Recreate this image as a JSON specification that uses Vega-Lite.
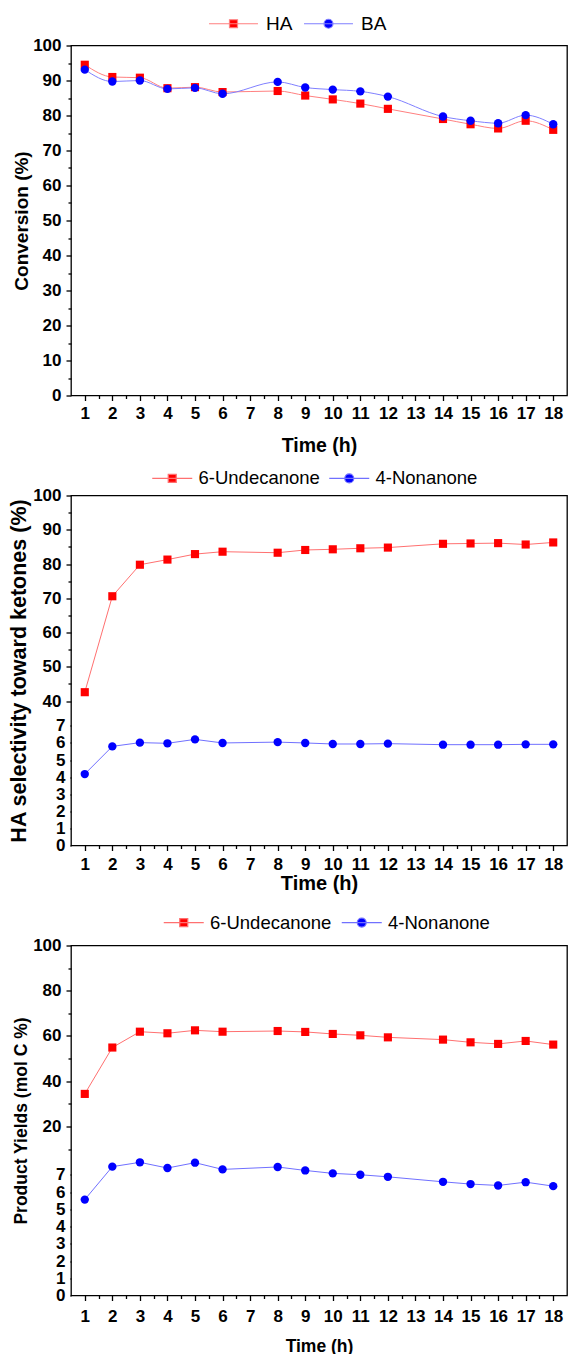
{
  "$schema": "https://vega.github.io/schema/vega-lite/v6.json",
  "background": "white",
  "autosize": {"type": "pad"},
  "padding": {"left": 7, "top": 12.5, "right": 0, "bottom": 0},
  "bounds": "flush",
  "spacing": 100,
  "resolve": {
    "scale": {"color": "independent", "stroke": "independent", "shape": "independent", "x": "independent", "y": "independent"},
    "legend": {"color": "independent", "stroke": "independent", "shape": "independent"}
  },
  "config": {
    "view": {"stroke": "black", "strokeWidth": 1.3},
    "axis": {
      "grid": false, "domain": false, "tickColor": "black", "tickWidth": 1.3,
      "labelFont": "Liberation Sans", "labelFontWeight": "bold", "labelFontSize": 17, "labelColor": "black",
      "titleFont": "Liberation Sans", "titleFontWeight": "bold", "titleColor": "black",
      "labelOverlap": false, "labelFlush": false, "labelBound": false
    },
    "legend": {"labelFont": "Liberation Sans", "labelColor": "black", "padding": 0}
  },
  "datasets": {
    "conv": [
      {"time": 1, "series": "HA", "value": 94.5}, {"time": 2, "series": "HA", "value": 91.0}, {"time": 3, "series": "HA", "value": 90.8},
      {"time": 4, "series": "HA", "value": 87.8}, {"time": 5, "series": "HA", "value": 88.1}, {"time": 6, "series": "HA", "value": 86.7},
      {"time": 8, "series": "HA", "value": 87.0}, {"time": 9, "series": "HA", "value": 85.7}, {"time": 10, "series": "HA", "value": 84.6},
      {"time": 11, "series": "HA", "value": 83.4}, {"time": 12, "series": "HA", "value": 81.9}, {"time": 14, "series": "HA", "value": 79.0},
      {"time": 15, "series": "HA", "value": 77.5}, {"time": 16, "series": "HA", "value": 76.3}, {"time": 17, "series": "HA", "value": 78.5},
      {"time": 18, "series": "HA", "value": 75.9},
      {"time": 1, "series": "BA", "value": 93.1}, {"time": 2, "series": "BA", "value": 89.7}, {"time": 3, "series": "BA", "value": 90.0},
      {"time": 4, "series": "BA", "value": 87.6}, {"time": 5, "series": "BA", "value": 87.9}, {"time": 6, "series": "BA", "value": 86.2},
      {"time": 8, "series": "BA", "value": 89.6}, {"time": 9, "series": "BA", "value": 88.0}, {"time": 10, "series": "BA", "value": 87.4},
      {"time": 11, "series": "BA", "value": 86.9}, {"time": 12, "series": "BA", "value": 85.4}, {"time": 14, "series": "BA", "value": 79.7},
      {"time": 15, "series": "BA", "value": 78.5}, {"time": 16, "series": "BA", "value": 77.8}, {"time": 17, "series": "BA", "value": 80.1},
      {"time": 18, "series": "BA", "value": 77.5}
    ],
    "sel": [
      {"time": 1, "series": "6-Undecanone", "value": 42.6}, {"time": 2, "series": "6-Undecanone", "value": 70.6}, {"time": 3, "series": "6-Undecanone", "value": 79.8},
      {"time": 4, "series": "6-Undecanone", "value": 81.3}, {"time": 5, "series": "6-Undecanone", "value": 82.9}, {"time": 6, "series": "6-Undecanone", "value": 83.6},
      {"time": 8, "series": "6-Undecanone", "value": 83.3}, {"time": 9, "series": "6-Undecanone", "value": 84.1}, {"time": 10, "series": "6-Undecanone", "value": 84.3},
      {"time": 11, "series": "6-Undecanone", "value": 84.6}, {"time": 12, "series": "6-Undecanone", "value": 84.8}, {"time": 14, "series": "6-Undecanone", "value": 85.9},
      {"time": 15, "series": "6-Undecanone", "value": 86.0}, {"time": 16, "series": "6-Undecanone", "value": 86.1}, {"time": 17, "series": "6-Undecanone", "value": 85.7},
      {"time": 18, "series": "6-Undecanone", "value": 86.3},
      {"time": 1, "series": "4-Nonanone", "value": 4.18}, {"time": 2, "series": "4-Nonanone", "value": 5.80}, {"time": 3, "series": "4-Nonanone", "value": 6.02},
      {"time": 4, "series": "4-Nonanone", "value": 5.98}, {"time": 5, "series": "4-Nonanone", "value": 6.21}, {"time": 6, "series": "4-Nonanone", "value": 6.0},
      {"time": 8, "series": "4-Nonanone", "value": 6.05}, {"time": 9, "series": "4-Nonanone", "value": 6.0}, {"time": 10, "series": "4-Nonanone", "value": 5.94},
      {"time": 11, "series": "4-Nonanone", "value": 5.94}, {"time": 12, "series": "4-Nonanone", "value": 5.96}, {"time": 14, "series": "4-Nonanone", "value": 5.90},
      {"time": 15, "series": "4-Nonanone", "value": 5.90}, {"time": 16, "series": "4-Nonanone", "value": 5.90}, {"time": 17, "series": "4-Nonanone", "value": 5.92},
      {"time": 18, "series": "4-Nonanone", "value": 5.92}
    ],
    "yield": [
      {"time": 1, "series": "6-Undecanone", "value": 34.4}, {"time": 2, "series": "6-Undecanone", "value": 54.9}, {"time": 3, "series": "6-Undecanone", "value": 61.9},
      {"time": 4, "series": "6-Undecanone", "value": 61.2}, {"time": 5, "series": "6-Undecanone", "value": 62.5}, {"time": 6, "series": "6-Undecanone", "value": 61.9},
      {"time": 8, "series": "6-Undecanone", "value": 62.2}, {"time": 9, "series": "6-Undecanone", "value": 61.8}, {"time": 10, "series": "6-Undecanone", "value": 60.9},
      {"time": 11, "series": "6-Undecanone", "value": 60.3}, {"time": 12, "series": "6-Undecanone", "value": 59.4}, {"time": 14, "series": "6-Undecanone", "value": 58.4},
      {"time": 15, "series": "6-Undecanone", "value": 57.2}, {"time": 16, "series": "6-Undecanone", "value": 56.5}, {"time": 17, "series": "6-Undecanone", "value": 57.8},
      {"time": 18, "series": "6-Undecanone", "value": 56.2},
      {"time": 1, "series": "4-Nonanone", "value": 5.56}, {"time": 2, "series": "4-Nonanone", "value": 7.47}, {"time": 3, "series": "4-Nonanone", "value": 7.72},
      {"time": 4, "series": "4-Nonanone", "value": 7.39}, {"time": 5, "series": "4-Nonanone", "value": 7.70}, {"time": 6, "series": "4-Nonanone", "value": 7.31},
      {"time": 8, "series": "4-Nonanone", "value": 7.45}, {"time": 9, "series": "4-Nonanone", "value": 7.25}, {"time": 10, "series": "4-Nonanone", "value": 7.08},
      {"time": 11, "series": "4-Nonanone", "value": 7.0}, {"time": 12, "series": "4-Nonanone", "value": 6.88}, {"time": 14, "series": "4-Nonanone", "value": 6.59},
      {"time": 15, "series": "4-Nonanone", "value": 6.46}, {"time": 16, "series": "4-Nonanone", "value": 6.38}, {"time": 17, "series": "4-Nonanone", "value": 6.57},
      {"time": 18, "series": "4-Nonanone", "value": 6.34}
    ]
  },
  "vconcat": [
    {
      "width": 496, "height": 350,
      "data": {"name": "conv"},
      "encoding": {
        "x": {"field": "time", "type": "quantitative", "scale": {"domain": [0.5, 18.5], "nice": false, "zero": false},
          "axis": {"values": [1,1.5,2,2.5,3,3.5,4,4.5,5,5.5,6,6.5,7,7.5,8,8.5,9,9.5,10,10.5,11,11.5,12,12.5,13,13.5,14,14.5,15,15.5,16,16.5,17,17.5,18],
            "labelExpr": "datum.value % 1 === 0 ? format(datum.value, 'd') : ''",
            "tickSize": {"condition": {"test": "datum.value % 1 === 0", "value": 5}, "value": 3},
            "title": "Time (h)", "titleFontSize": 19.5, "labelPadding": 5, "titlePadding": 15}},
        "y": {"field": "value", "type": "quantitative", "scale": {"domain": [0, 100], "nice": false, "zero": false},
          "axis": {"values": [0,5,10,15,20,25,30,35,40,45,50,55,60,65,70,75,80,85,90,95,100],
            "labelExpr": "datum.value % 10 === 0 ? format(datum.value, 'd') : ''",
            "tickSize": {"condition": {"test": "datum.value % 10 === 0", "value": 5}, "value": 3},
            "title": "Conversion (%)", "titleFontSize": 19, "labelPadding": 5, "titlePadding": 1}}
      },
      "layer": [
        {
          "mark": {"type": "line", "interpolate": "monotone", "strokeWidth": 1},
          "encoding": {"stroke": {"field": "series", "type": "nominal", "scale": {"domain": ["HA", "BA"], "range": ["#ff8080", "#8080ff"]},
            "legend": {"orient": "none", "legendX": 153, "legendY": -31.5, "direction": "horizontal", "title": null, "labelFontSize": 19, "symbolSize": 256, "symbolStrokeWidth": 1.2, "labelOffset": 23, "columnPadding": 8, "symbolOpacity": 1}}}
        },
        {
          "transform": [{"filter": "datum.series === 'HA'"}],
          "mark": {"type": "point", "filled": true, "opacity": 1, "size": 66, "shape": "square"},
          "encoding": {"color": {"field": "series", "type": "nominal", "scale": {"domain": ["HA", "BA"], "range": ["#ff0000", "#0000ff"]},
            "legend": {"orient": "none", "legendX": 153, "legendY": -31.5, "direction": "horizontal", "title": null, "labelFontSize": 19, "symbolSize": 256, "symbolStrokeWidth": 1.2, "labelOffset": 23, "columnPadding": 8, "symbolOpacity": 1}}}
        },
        {
          "transform": [{"filter": "datum.series === 'BA'"}],
          "mark": {"type": "point", "filled": true, "opacity": 1, "size": 70, "shape": "circle"},
          "encoding": {"color": {"field": "series", "type": "nominal", "scale": {"domain": ["HA", "BA"], "range": ["#ff0000", "#0000ff"]},
            "legend": {"orient": "none", "legendX": 153, "legendY": -31.5, "direction": "horizontal", "title": null, "labelFontSize": 19, "symbolSize": 256, "symbolStrokeWidth": 1.2, "labelOffset": 23, "columnPadding": 8, "symbolOpacity": 1}}}
        },
        {
          "transform": [{"filter": "false"}],
          "mark": {"type": "point"},
          "encoding": {"shape": {"field": "series", "type": "nominal", "scale": {"domain": ["HA", "BA"], "range": ["M-3.06,0H3.06M-0.5,-0.5H0.5V0.5H-0.5Z", "M-3.06,0H3.06M-0.56,0A0.56,0.56 0 1,0 0.56,0A0.56,0.56 0 1,0 -0.56,0Z"]},
            "legend": {"orient": "none", "legendX": 153, "legendY": -31.5, "direction": "horizontal", "title": null, "labelFontSize": 19, "symbolSize": 256, "symbolStrokeWidth": 1.2, "labelOffset": 23, "columnPadding": 8, "symbolOpacity": 1}}}
        }
      ]
    },
    {
      "width": 496, "height": 350,
      "data": {"name": "sel"},
      "encoding": {
        "x": {"field": "time", "type": "quantitative", "scale": {"domain": [0.5, 18.5], "nice": false, "zero": false},
          "axis": {"values": [1,1.5,2,2.5,3,3.5,4,4.5,5,5.5,6,6.5,7,7.5,8,8.5,9,9.5,10,10.5,11,11.5,12,12.5,13,13.5,14,14.5,15,15.5,16,16.5,17,17.5,18],
            "labelExpr": "datum.value % 1 === 0 ? format(datum.value, 'd') : ''",
            "tickSize": {"condition": {"test": "datum.value % 1 === 0", "value": 5}, "value": 3},
            "title": "Time (h)", "titleFontSize": 20, "labelPadding": 6, "titlePadding": 1}},
        "y": {"field": "value", "type": "quantitative", "scale": {"domain": [0, 7.9, 39.3, 100], "range": [350, 215, 208, 0], "nice": false, "zero": false},
          "axis": {"values": [0,0.5,1,1.5,2,2.5,3,3.5,4,4.5,5,5.5,6,6.5,7,7.5,40,45,50,55,60,65,70,75,80,85,90,95,100],
            "labelExpr": "(datum.value < 10 ? datum.value % 1 === 0 : datum.value % 10 === 0) ? format(datum.value, 'd') : ''",
            "tickSize": {"condition": {"test": "datum.value < 10 ? datum.value % 1 === 0 : datum.value % 10 === 0", "value": 5}, "value": 3},
            "title": "HA selectivity toward ketones (%)", "titleFontSize": 21.5, "labelPadding": 5, "titlePadding": 2}}
      },
      "layer": [
        {
          "mark": {"type": "line", "strokeWidth": 1},
          "encoding": {"stroke": {"field": "series", "type": "nominal", "scale": {"domain": ["6-Undecanone", "4-Nonanone"], "range": ["#ff7070", "#7070ff"]},
            "legend": {"orient": "none", "legendX": 92, "legendY": -26.5, "direction": "horizontal", "title": null, "labelFontSize": 18.5, "symbolSize": 256, "symbolStrokeWidth": 1.2, "labelOffset": 17, "columnPadding": 6, "symbolOpacity": 1}}}
        },
        {
          "transform": [{"filter": "datum.series === '6-Undecanone'"}],
          "mark": {"type": "point", "filled": true, "opacity": 1, "size": 66, "shape": "square"},
          "encoding": {"color": {"field": "series", "type": "nominal", "scale": {"domain": ["6-Undecanone", "4-Nonanone"], "range": ["#ff0000", "#0000ff"]},
            "legend": {"orient": "none", "legendX": 92, "legendY": -26.5, "direction": "horizontal", "title": null, "labelFontSize": 18.5, "symbolSize": 256, "symbolStrokeWidth": 1.2, "labelOffset": 17, "columnPadding": 6, "symbolOpacity": 1}}}
        },
        {
          "transform": [{"filter": "datum.series === '4-Nonanone'"}],
          "mark": {"type": "point", "filled": true, "opacity": 1, "size": 70, "shape": "circle"},
          "encoding": {"color": {"field": "series", "type": "nominal", "scale": {"domain": ["6-Undecanone", "4-Nonanone"], "range": ["#ff0000", "#0000ff"]},
            "legend": {"orient": "none", "legendX": 92, "legendY": -26.5, "direction": "horizontal", "title": null, "labelFontSize": 18.5, "symbolSize": 256, "symbolStrokeWidth": 1.2, "labelOffset": 17, "columnPadding": 6, "symbolOpacity": 1}}}
        },
        {
          "transform": [{"filter": "false"}],
          "mark": {"type": "point"},
          "encoding": {"shape": {"field": "series", "type": "nominal", "scale": {"domain": ["6-Undecanone", "4-Nonanone"], "range": ["M-2.5,0H2.5M-0.5,-0.5H0.5V0.5H-0.5Z", "M-2.5,0H2.5M-0.56,0A0.56,0.56 0 1,0 0.56,0A0.56,0.56 0 1,0 -0.56,0Z"]},
            "legend": {"orient": "none", "legendX": 92, "legendY": -26.5, "direction": "horizontal", "title": null, "labelFontSize": 18.5, "symbolSize": 256, "symbolStrokeWidth": 1.2, "labelOffset": 17, "columnPadding": 6, "symbolOpacity": 1}}}
        },
        {
          "data": {"values": [{}]},
          "mark": {"type": "rect", "fill": "white", "clip": false},
          "encoding": {"x": {"datum": 0.44}, "x2": {"datum": 0.56}, "y": {"datum": 35.71}, "y2": {"datum": 15.08}}
        },
        {
          "data": {"values": [{}]},
          "mark": {"type": "rect", "fill": "white", "clip": false},
          "encoding": {"x": {"datum": 18.44}, "x2": {"datum": 18.56}, "y": {"datum": 35.71}, "y2": {"datum": 15.08}}
        },
        {
          "data": {"values": [{}]},
          "mark": {"type": "rule", "color": "black", "strokeWidth": 1.2, "clip": false},
          "encoding": {"x": {"datum": 0.3}, "x2": {"datum": 0.77}, "y": {"datum": 30.33}, "y2": {"datum": 40.09}}
        },
        {
          "data": {"values": [{}]},
          "mark": {"type": "rule", "color": "black", "strokeWidth": 1.2, "clip": false},
          "encoding": {"x": {"datum": 0.3}, "x2": {"datum": 0.77}, "y": {"datum": 7.84}, "y2": {"datum": 25.84}}
        },
        {
          "data": {"values": [{}]},
          "mark": {"type": "rule", "color": "black", "strokeWidth": 1.2, "clip": false},
          "encoding": {"x": {"datum": 18.3}, "x2": {"datum": 18.68}, "y": {"datum": 30.33}, "y2": {"datum": 40.09}}
        },
        {
          "data": {"values": [{}]},
          "mark": {"type": "rule", "color": "black", "strokeWidth": 1.2, "clip": false},
          "encoding": {"x": {"datum": 18.3}, "x2": {"datum": 18.68}, "y": {"datum": 7.84}, "y2": {"datum": 25.84}}
        }
      ]
    },
    {
      "width": 496, "height": 350,
      "data": {"name": "yield"},
      "encoding": {
        "x": {"field": "time", "type": "quantitative", "scale": {"domain": [0.5, 18.5], "nice": false, "zero": false},
          "axis": {"values": [1,1.5,2,2.5,3,3.5,4,4.5,5,5.5,6,6.5,7,7.5,8,8.5,9,9.5,10,10.5,11,11.5,12,12.5,13,13.5,14,14.5,15,15.5,16,16.5,17,17.5,18],
            "labelExpr": "datum.value % 1 === 0 ? format(datum.value, 'd') : ''",
            "tickSize": {"condition": {"test": "datum.value % 1 === 0", "value": 5}, "value": 3},
            "title": "Time (h)", "titleFontSize": 17.5, "labelPadding": 8, "titlePadding": 13}},
        "y": {"field": "value", "type": "quantitative", "scale": {"domain": [0, 8, 8.5, 100], "range": [350, 212, 207, 0], "nice": false, "zero": false},
          "axis": {"values": [0,0.5,1,1.5,2,2.5,3,3.5,4,4.5,5,5.5,6,6.5,7,7.5,10,20,30,40,50,60,70,80,90,100],
            "labelExpr": "(datum.value < 9 ? datum.value % 1 === 0 : datum.value % 20 === 0) ? format(datum.value, 'd') : ''",
            "tickSize": {"condition": {"test": "datum.value < 9 ? datum.value % 1 === 0 : datum.value % 20 === 0", "value": 5}, "value": 3},
            "title": "Product Yields (mol C %)", "titleFontSize": 17.5, "labelPadding": 5, "titlePadding": 2}}
      },
      "layer": [
        {
          "mark": {"type": "line", "strokeWidth": 1},
          "encoding": {"stroke": {"field": "series", "type": "nominal", "scale": {"domain": ["6-Undecanone", "4-Nonanone"], "range": ["#ff7070", "#7070ff"]},
            "legend": {"orient": "none", "legendX": 103.5, "legendY": -32.3, "direction": "horizontal", "title": null, "labelFontSize": 18.5, "symbolSize": 256, "symbolStrokeWidth": 1.2, "labelOffset": 17, "columnPadding": 7, "symbolOpacity": 1}}}
        },
        {
          "transform": [{"filter": "datum.series === '6-Undecanone'"}],
          "mark": {"type": "point", "filled": true, "opacity": 1, "size": 66, "shape": "square"},
          "encoding": {"color": {"field": "series", "type": "nominal", "scale": {"domain": ["6-Undecanone", "4-Nonanone"], "range": ["#ff0000", "#0000ff"]},
            "legend": {"orient": "none", "legendX": 103.5, "legendY": -32.3, "direction": "horizontal", "title": null, "labelFontSize": 18.5, "symbolSize": 256, "symbolStrokeWidth": 1.2, "labelOffset": 17, "columnPadding": 7, "symbolOpacity": 1}}}
        },
        {
          "transform": [{"filter": "datum.series === '4-Nonanone'"}],
          "mark": {"type": "point", "filled": true, "opacity": 1, "size": 70, "shape": "circle"},
          "encoding": {"color": {"field": "series", "type": "nominal", "scale": {"domain": ["6-Undecanone", "4-Nonanone"], "range": ["#ff0000", "#0000ff"]},
            "legend": {"orient": "none", "legendX": 103.5, "legendY": -32.3, "direction": "horizontal", "title": null, "labelFontSize": 18.5, "symbolSize": 256, "symbolStrokeWidth": 1.2, "labelOffset": 17, "columnPadding": 7, "symbolOpacity": 1}}}
        },
        {
          "transform": [{"filter": "false"}],
          "mark": {"type": "point"},
          "encoding": {"shape": {"field": "series", "type": "nominal", "scale": {"domain": ["6-Undecanone", "4-Nonanone"], "range": ["M-2.5,0H2.5M-0.5,-0.5H0.5V0.5H-0.5Z", "M-2.5,0H2.5M-0.56,0A0.56,0.56 0 1,0 0.56,0A0.56,0.56 0 1,0 -0.56,0Z"]},
            "legend": {"orient": "none", "legendX": 103.5, "legendY": -32.3, "direction": "horizontal", "title": null, "labelFontSize": 18.5, "symbolSize": 256, "symbolStrokeWidth": 1.2, "labelOffset": 17, "columnPadding": 7, "symbolOpacity": 1}}}
        },
        {
          "data": {"values": [{}]},
          "mark": {"type": "rect", "fill": "white", "clip": false},
          "encoding": {"x": {"datum": 0.44}, "x2": {"datum": 0.56}, "y": {"datum": 8.4}, "y2": {"datum": 7.99}}
        },
        {
          "data": {"values": [{}]},
          "mark": {"type": "rect", "fill": "white", "clip": false},
          "encoding": {"x": {"datum": 18.44}, "x2": {"datum": 18.56}, "y": {"datum": 8.4}, "y2": {"datum": 7.99}}
        },
        {
          "data": {"values": [{}]},
          "mark": {"type": "rule", "color": "black", "strokeWidth": 1.2, "clip": false},
          "encoding": {"x": {"datum": 0.3}, "x2": {"datum": 0.77}, "y": {"datum": 8.27}, "y2": {"datum": 9.69}}
        },
        {
          "data": {"values": [{}]},
          "mark": {"type": "rule", "color": "black", "strokeWidth": 1.2, "clip": false},
          "encoding": {"x": {"datum": 0.3}, "x2": {"datum": 0.77}, "y": {"datum": 7.838}, "y2": {"datum": 8.2}}
        },
        {
          "data": {"values": [{}]},
          "mark": {"type": "rule", "color": "black", "strokeWidth": 1.2, "clip": false},
          "encoding": {"x": {"datum": 18.3}, "x2": {"datum": 18.68}, "y": {"datum": 8.27}, "y2": {"datum": 9.69}}
        },
        {
          "data": {"values": [{}]},
          "mark": {"type": "rule", "color": "black", "strokeWidth": 1.2, "clip": false},
          "encoding": {"x": {"datum": 18.3}, "x2": {"datum": 18.68}, "y": {"datum": 7.838}, "y2": {"datum": 8.2}}
        }
      ]
    }
  ]
}
